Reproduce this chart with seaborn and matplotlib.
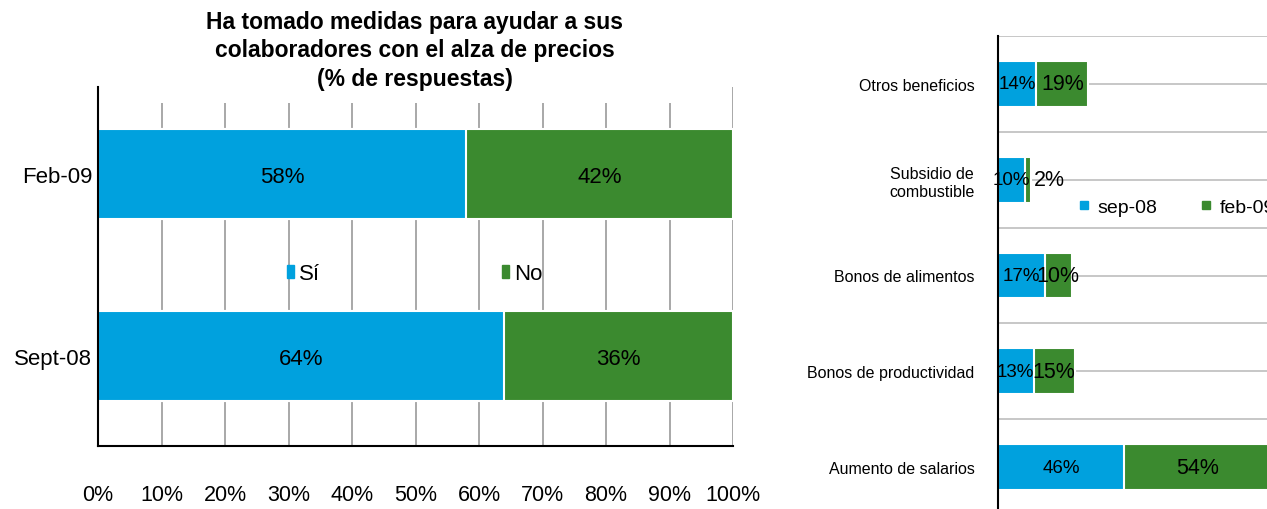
import numpy as np
import pandas as pd
import matplotlib
matplotlib.use("Agg")
import matplotlib.pyplot as plt
import seaborn as sns
from matplotlib.lines import Line2D
from matplotlib.patches import Patch, Rectangle

# Left chart data
periods = ["Feb-09", "Sept-08"]
si = [58, 64]
no = [42, 36]

# Right chart data
benefits = ["Otros beneficios", "Subsidio de\ncombustible", "Bonos de alimentos",
            "Bonos de productividad", "Aumento de salarios"]
sep08 = [14, 10, 17, 13, 46]
feb09 = [19, 2, 10, 15, 54]

BLUE = "#00A1DE"
GREEN = "#3B8A2F"

sns.set_style("white")
plt.rcParams["font.family"] = ["Liberation Sans", "DejaVu Sans"]
plt.rcParams["text.color"] = "black"
plt.rcParams["xtick.color"] = "black"
plt.rcParams["ytick.color"] = "black"
plt.rcParams["axes.labelcolor"] = "black"

fig = plt.figure(figsize=(12.67, 5.1), dpi=100)

# ---------------- left panel ----------------
ax1 = fig.add_axes([98 / 1267, 1 - 447 / 510, 635 / 1267, 359 / 510])

left = pd.DataFrame({"period": periods, "si": si, "no": no})
left["total"] = left["si"] + left["no"]

sns.barplot(data=left, x="total", y="period", order=periods, orient="h",
            color=GREEN, width=0.49, edgecolor="white", linewidth=1.5,
            saturation=1, ax=ax1)
sns.barplot(data=left, x="si", y="period", order=periods, orient="h",
            color=BLUE, width=0.49, edgecolor="white", linewidth=1.5,
            saturation=1, ax=ax1)

for i, row in left.iterrows():
    ax1.text(row["si"] / 2, i, f"{row['si']}%", ha="center", va="center_baseline", fontsize=16)
    ax1.text(row["si"] + row["no"] / 2, i, f"{row['no']}%", ha="center", va="center_baseline", fontsize=16)

ax1.set_xlim(0, 100)
ax1.set_ylim(1.495, -0.478)
ax1.set_xticks(range(0, 101, 10))
ax1.set_xticklabels([f"{v}%" for v in range(0, 101, 10)], fontsize=15.5)
ax1.set_yticklabels(periods, fontsize=16)
ax1.set_xlabel("")
ax1.set_ylabel("")
ax1.tick_params(axis="x", direction="out", length=4.5, width=1.4, color="black", pad=23)
ax1.tick_params(axis="y", length=0, pad=4)
ax1.grid(axis="x", color="#9A9A9A", linewidth=1.2)
ax1.grid(axis="y", visible=False)
ax1.set_axisbelow(True)
for s in ["top", "right"]:
    ax1.spines[s].set_visible(False)
for s in ["left", "bottom"]:
    ax1.spines[s].set_color("black")
    ax1.spines[s].set_linewidth(1.5)

ax1.legend(handles=[Patch(color=BLUE, label="Sí"), Patch(color=GREEN, label="No")],
           loc="center left", bbox_to_anchor=((287 - 98) / 635, (447 - 275) / 359),
           ncol=2, frameon=False, fontsize=16, handlelength=0.33, handleheight=0.55,
           handletextpad=0.2, columnspacing=8.2, borderpad=0, borderaxespad=0)

# white box behind the title hides the gridline tops
fig.add_artist(Rectangle((105 / 1267, 1 - 104 / 510), 621 / 1267, 104 / 510,
                         transform=fig.transFigure, facecolor="white",
                         edgecolor="none", zorder=1))
fig.text(415 / 1267, 1 - 11 / 510,
         "Ha tomado medidas para ayudar a sus\ncolaboradores con el alza de precios\n(% de respuestas)",
         ha="center", va="top", fontsize=16.5, fontweight="bold", linespacing=1.3, zorder=2)

# ---------------- right panel ----------------
ax2 = fig.add_axes([998 / 1267, 1 - 516 / 510, 274 / 1267, 479 / 510])

right = pd.DataFrame({"benefit": benefits, "sep08": sep08, "feb09": feb09})
right["total"] = right["sep08"] + right["feb09"]

sns.barplot(data=right, x="total", y="benefit", order=benefits, orient="h",
            color=GREEN, width=0.48, edgecolor="white", linewidth=1.5,
            saturation=1, ax=ax2)
sns.barplot(data=right, x="sep08", y="benefit", order=benefits, orient="h",
            color=BLUE, width=0.48, edgecolor="white", linewidth=1.5,
            saturation=1, ax=ax2)

for i, row in right.iterrows():
    ax2.text(row["sep08"] / 2, i, f"{row['sep08']}%", ha="center", va="center", fontsize=13.5)
    if row["feb09"] < 5:
        ax2.annotate(f"{row['feb09']}%", (row["total"], i), xytext=(3, 0),
                     textcoords="offset pixels", ha="left", va="center", fontsize=15.5)
    else:
        ax2.text(row["sep08"] + row["feb09"] / 2, i, f"{row['feb09']}%",
                 ha="center", va="center", fontsize=15.5)

ax2.set_xlim(0, 100)
ax2.set_ylim(4.5, -0.5)
ax2.set_xticks([])
ax2.set_xlabel("")
ax2.set_ylabel("")
ax2.set_yticks(range(len(benefits)))
ax2.set_yticklabels(benefits, fontsize=11.5, ha="right", multialignment="center")
ax2.set_yticks(np.arange(-0.5, len(benefits), 1), minor=True)
ax2.tick_params(axis="y", which="major", length=0, pad=17)
ax2.tick_params(axis="y", which="minor", direction="out", length=4.5, width=1.4, color="black")
ax2.grid(axis="y", which="both", color="#BDBDBD", linewidth=1.2)
ax2.grid(axis="x", visible=False)
ax2.set_axisbelow(True)
for s in ["top", "right", "bottom"]:
    ax2.spines[s].set_visible(False)
ax2.spines["left"].set_color("black")
ax2.spines["left"].set_linewidth(1.5)

fig.legend(handles=[Line2D([], [], marker="s", color=BLUE, linestyle="none", markersize=6, label="sep-08"),
                    Line2D([], [], marker="s", color=GREEN, linestyle="none", markersize=6, label="feb-09")],
           loc="center left", bbox_to_anchor=(1078 / 1267, 1 - 208 / 510), ncol=2,
           frameon=False, fontsize=14, handlelength=0.6, handletextpad=0.4,
           columnspacing=2.2, borderpad=0, borderaxespad=0)

fig.savefig("out.png", dpi=100)
